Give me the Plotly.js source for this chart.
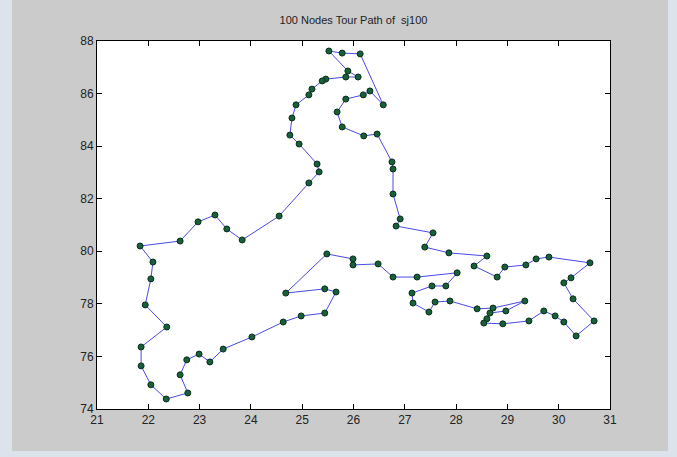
<!DOCTYPE html>
<html>
<head>
<meta charset="utf-8">
<script src="https://cdn.plot.ly/plotly-3.0.1.min.js"></script>
<style>
html,body{margin:0;padding:0;width:677px;height:457px;background:#dde3ea;overflow:hidden;}
#chart{position:absolute;left:12px;top:0;width:656px;height:451px;}
</style>
</head>
<body>
<div id="chart"></div>
<script>
// Tour order (closed path)
const tourX = [25.52,25.89,26.09,25.85,25.46,25.39,25.19,25.13,24.88,24.80,
  24.76,24.94,25.29,25.33,25.13,24.55,23.83,23.53,23.30,22.97,
  22.62,21.84,22.09,22.05,21.94,22.36,21.86,21.86,22.05,22.35,
  22.77,22.62,22.75,22.99,23.20,23.46,24.02,24.63,24.98,25.44,
  25.66,25.44,24.68,25.48,25.99,25.99,26.48,26.77,27.24,28.02,
  27.80,27.53,27.14,27.16,27.47,27.59,27.88,28.41,28.72,29.34,
  28.97,28.66,28.60,28.54,28.91,29.42,29.71,29.93,30.10,30.34,
  30.69,30.28,30.10,30.24,30.61,29.81,29.56,29.36,28.95,28.80,
  28.35,28.60,27.86,27.39,27.55,26.83,26.91,26.77,26.77,26.75,
  26.46,26.20,25.78,25.68,25.85,26.19,26.32,26.58,26.13,25.78];
const tourY = [87.62,86.86,86.63,86.63,86.55,86.48,86.17,85.95,85.57,85.07,
  84.42,84.08,83.32,83.02,82.60,81.34,80.43,80.85,81.38,81.12,
  80.39,80.20,79.59,78.95,77.96,77.12,76.36,75.64,74.92,74.38,
  74.61,75.30,75.87,76.09,75.79,76.28,76.74,77.31,77.54,77.65,
  78.45,78.57,78.41,79.90,79.71,79.48,79.52,79.02,79.02,79.18,
  78.68,78.68,78.41,78.03,77.69,78.07,78.11,77.81,77.84,78.11,
  77.73,77.65,77.43,77.27,77.24,77.35,77.73,77.54,77.31,76.78,
  77.35,78.19,78.80,78.99,79.56,79.78,79.71,79.48,79.40,79.02,
  79.44,79.82,79.94,80.16,80.70,80.96,81.23,82.18,83.13,83.40,
  84.46,84.39,84.73,85.30,85.79,85.95,86.10,85.57,87.51,87.54];
const xTicks = [21,22,23,24,25,26,27,28,29,30,31];
const yTicks = [74,76,78,80,82,84,86,88];
const chartTitle = '100 Nodes Tour Path of  sj100';

const closedX = tourX.concat([tourX[0]]);
const closedY = tourY.concat([tourY[0]]);

const axisCommon = {
  showgrid:false, zeroline:false, showline:true, mirror:'ticks',
  linecolor:'#000', linewidth:1, ticks:'inside', ticklen:5, tickcolor:'#000',
  tickfont:{family:'Liberation Sans, Arial, sans-serif', size:12, color:'#222'}
};

Plotly.newPlot('chart', [
  {x:closedX, y:closedY, mode:'lines', type:'scatter',
   line:{color:'#4a4ae6', width:1}, hoverinfo:'skip'},
  {x:tourX, y:tourY, mode:'markers', type:'scatter',
   marker:{size:6, color:'#17603a', line:{color:'#0a2e1a', width:1}}}
], {
  width:656, height:451,
  paper_bgcolor:'#cbcbcb', plot_bgcolor:'#ffffff',
  showlegend:false,
  margin:{l:85, r:58, t:41, b:42},
  title:{text:chartTitle, x:0.5, xref:'paper', xanchor:'center', y:0.955, yref:'container', yanchor:'middle',
         font:{family:'Liberation Sans, Arial, sans-serif', size:11, color:'#222'}},
  xaxis:Object.assign({}, axisCommon, {range:[21,31], tickvals:xTicks, ticktext:xTicks.map(String)}),
  yaxis:Object.assign({}, axisCommon, {range:[74,88], tickvals:yTicks, ticktext:yTicks.map(String)})
}, {displayModeBar:false, staticPlot:true});
</script>
</body>
</html>
